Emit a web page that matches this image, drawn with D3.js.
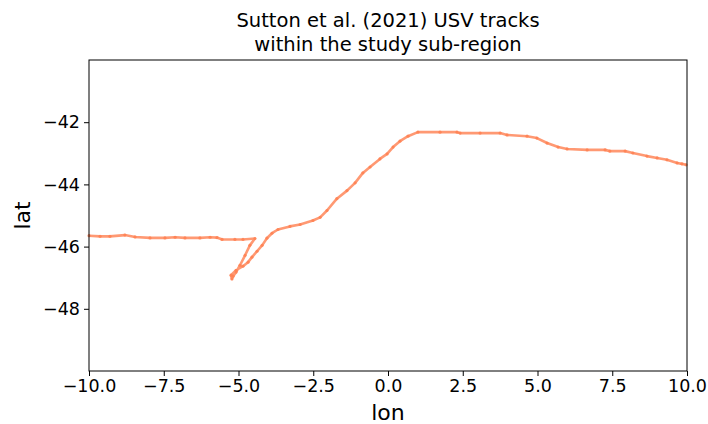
<!DOCTYPE html>
<html>
<head>
<meta charset="utf-8">
<script src="https://cdn.jsdelivr.net/npm/d3@7"></script>
<style>
  body { margin: 0; background: #fff; }
  text { font-family: "DejaVu Sans", sans-serif; fill: #000; }
</style>
</head>
<body>
<div id="chart"></div>
<script>
var lon = [-10.0, -9.63, -9.30, -8.80, -8.46, -7.96, -7.46, -7.12, -6.79, -6.29, -5.95, -5.72, -5.55, -5.12, -4.85, -4.45,
  -4.62, -4.78, -4.95, -5.08, -5.18, -5.22, -5.25,
  -5.08, -4.85, -4.68, -4.55, -4.38, -4.21, -4.05, -3.88, -3.68, -3.28, -2.94, -2.51, -2.27, -2.04, -1.71, -1.37, -1.10,
  -0.84, -0.60, -0.27, -0.03, 0.17, 0.40, 0.67, 1.00, 1.74, 2.31, 2.41, 3.08, 3.75, 3.98, 4.65, 4.98, 5.32, 5.69, 5.99,
  6.66, 7.26, 7.42, 7.93, 8.19, 8.66, 9.00, 9.33, 9.67, 9.83, 9.97];
var lat = [-45.65, -45.67, -45.67, -45.63, -45.69, -45.72, -45.72, -45.70, -45.72, -45.72, -45.70, -45.71, -45.77, -45.77, -45.77, -45.74,
  -45.96, -46.28, -46.60, -46.82, -46.95, -47.04, -46.92,
  -46.76, -46.63, -46.50, -46.34, -46.15, -45.96, -45.73, -45.57, -45.45, -45.35, -45.29, -45.16, -45.06, -44.84, -44.46, -44.20, -43.95,
  -43.63, -43.44, -43.18, -43.02, -42.80, -42.61, -42.45, -42.32, -42.32, -42.32, -42.35, -42.35, -42.35, -42.41, -42.45, -42.51, -42.67, -42.80, -42.86,
  -42.89, -42.89, -42.93, -42.93, -42.99, -43.09, -43.15, -43.21, -43.31, -43.34, -43.37];
var xTicks = [-10, -7.5, -5, -2.5, 0, 2.5, 5, 7.5, 10];
var yTicks = [-48, -46, -44, -42];
var titleLines = ["Sutton et al. (2021) USV tracks", "within the study sub-region"];

var W = 708, H = 424;
var margin = {top: 60, right: 21, bottom: 53, left: 89};
var width = W - margin.left - margin.right,
    height = H - margin.top - margin.bottom;

var svg = d3.select("#chart").append("svg")
  .attr("width", W).attr("height", H);
var g = svg.append("g")
  .attr("transform", "translate(" + margin.left + "," + margin.top + ")");

var x = d3.scaleLinear().domain([-10, 10]).range([0, width]);
var y = d3.scaleLinear().domain([-50, -40]).range([height, 0]);

var pts = lon.map(function (d, i) { return [d, lat[i]]; });
var color = "#ff7f50";

g.append("path")
  .datum(pts)
  .attr("fill", "none")
  .attr("stroke", color)
  .attr("stroke-width", 2.6)
  .attr("stroke-opacity", 0.8)
  .attr("stroke-linejoin", "round")
  .attr("d", d3.line().x(function (d) { return x(d[0]); }).y(function (d) { return y(d[1]); }));

g.selectAll("circle")
  .data(pts)
  .enter().append("circle")
  .attr("cx", function (d) { return x(d[0]); })
  .attr("cy", function (d) { return y(d[1]); })
  .attr("r", 1.6)
  .attr("fill", color)
  .attr("fill-opacity", 0.8);

var fmt = function (d) { return d3.format(".1f")(d).replace("-", "\u2212"); };
var xAxis = g.append("g")
  .attr("transform", "translate(0," + height + ")")
  .call(d3.axisBottom(x).tickValues(xTicks).tickFormat(fmt).tickSize(5).tickPadding(4));
var yAxis = g.append("g")
  .call(d3.axisLeft(y).tickValues(yTicks).tickFormat(function (d) { return String(d).replace("-", "\u2212"); }).tickSize(5).tickPadding(4));

[xAxis, yAxis].forEach(function (a) {
  a.select(".domain").remove();
  a.selectAll("line").attr("stroke", "#000").attr("stroke-width", 1);
  a.selectAll("text").attr("font-size", "17.5px").attr("font-family", "DejaVu Sans").attr("fill", "#000");
});

g.append("rect")
  .attr("width", width).attr("height", height)
  .attr("fill", "none").attr("stroke", "#000").attr("stroke-width", 1);

svg.selectAll(".title")
  .data(titleLines)
  .enter().append("text")
  .attr("class", "title")
  .attr("x", margin.left + width / 2)
  .attr("y", function (d, i) { return 27 + i * 24; })
  .attr("text-anchor", "middle")
  .attr("font-size", "19.5px")
  .text(function (d) { return d; });

svg.append("text")
  .attr("x", margin.left + width / 2)
  .attr("y", 420)
  .attr("text-anchor", "middle")
  .attr("font-size", "22px")
  .text("lon");

svg.append("text")
  .attr("transform", "translate(30," + (margin.top + height / 2) + ") rotate(-90)")
  .attr("text-anchor", "middle")
  .attr("font-size", "22px")
  .text("lat");
</script>
</body>
</html>
